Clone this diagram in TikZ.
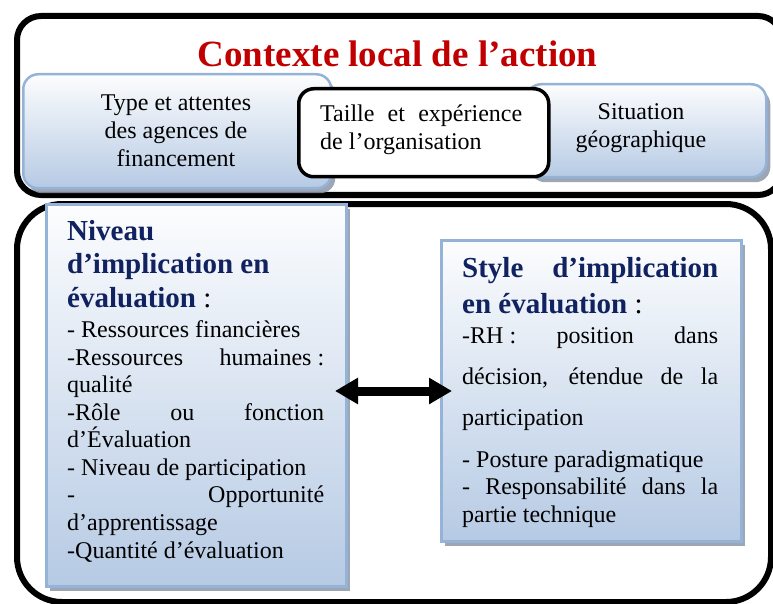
\documentclass[tikz,border=0pt]{standalone}
\usepackage{fontspec}
\setmainfont{Liberation Serif}
\usetikzlibrary{shadows,arrows.meta}

\definecolor{titlered}{RGB}{192,0,0}
\definecolor{navy}{RGB}{16,34,96}
\definecolor{paleblue}{RGB}{182,202,228}
\definecolor{edgeblue}{RGB}{149,179,215}
\definecolor{shadowgray}{RGB}{140,150,168}

% type sizes (1 unit = 1pt)
\newcommand\bodyfont{\fontsize{24}{28}\selectfont}
\newcommand\headfont{\fontsize{29}{34}\selectfont\bfseries\color{navy}}
\newcommand\colonfont{\fontsize{29}{34}\selectfont\color{black}}
\newcommand\titlefont{\fontsize{37}{44}\selectfont\bfseries\color{titlered}}
% justified line of a given width
\newcommand\jline[2]{\makebox[#1][s]{#2}}

\tikzset{
  frame/.style={draw=black, line width=6pt, inner sep=0pt, anchor=north west},
  bluebox/.style={draw=edgeblue, line width=2.5pt, top color=white!96!paleblue,
    bottom color=paleblue, inner sep=0pt, anchor=north west,
    drop shadow={shadow xshift=4pt, shadow yshift=-5pt, fill=shadowgray, opacity=.85}},
  whitebox/.style={draw=black, fill=white, line width=3.5pt, rounded corners=15pt,
    inner sep=0pt, anchor=north west},
  txt/.style={anchor=base west, inner sep=0pt, font=\bodyfont},
  ctxt/.style={anchor=base, inner sep=0pt, font=\bodyfont},
  bigarrow/.style={line width=9pt,
    {Triangle[length=23pt,width=25pt]}-{Triangle[length=23pt,width=25pt]}},
}

\begin{document}
\begin{tikzpicture}[x=1pt, y=-1pt]
  \useasboundingbox (0,0) rectangle (773,604);
  \clip (0,0) rectangle (773,604);

  % outer frames
  \node[frame, rounded corners=24pt, minimum width=765pt, minimum height=179pt] (ctx) at (14,13) {};
  \node[frame, rounded corners=45pt, minimum width=754pt, minimum height=398pt] (impl) at (14,201) {};

  % context boxes
  \node[bluebox, rounded corners=15pt, minimum width=308pt, minimum height=114pt] (fin) at (22,73) {};
  \node[bluebox, rounded corners=15pt, minimum width=240pt, minimum height=93pt] (geo) at (525,83) {};
  \node[whitebox, minimum width=250pt, minimum height=88pt] (org) at (297,87) {};

  % implication boxes
  \node[bluebox, minimum width=300pt, minimum height=382pt] (niv) at (45,203) {};
  \node[bluebox, minimum width=300pt, minimum height=301pt] (sty) at (440,239) {};

  % two-way link between the two boxes
  \coordinate (al) at (335,391);
  \coordinate (ar) at (452,391);
  \draw[bigarrow] (al) -- (ar);

  % title
  \node[anchor=base, inner sep=0pt, font=\titlefont] (title) at (397.5,67) {Contexte local de l’action};

  % context texts
  \node[ctxt] (f1) at (176,111) {Type et attentes};
  \node[ctxt] (f2) at (176,139) {des agences de};
  \node[ctxt] (f3) at (176,167) {financement};

  \node[txt] (o1) at (320,122) {\jline{202pt}{Taille et expérience}};
  \node[txt] (o2) at (320,150) {de l’organisation};

  \node[ctxt] (g1) at (641,120) {Situation};
  \node[ctxt] (g2) at (641,148) {géographique};

  % level of involvement
  \node[txt] (n1) at (67,240.7) {\headfont Niveau};
  \node[txt] (n2) at (67,273.5) {\headfont d’implication en};
  \node[txt] (n3) at (67,307.5) {{\headfont évaluation}{\colonfont\ :}};
  \node[txt] (n4) at (67,337) {- Ressources financières};
  \node[txt] (n5) at (67,365) {\jline{257pt}{-Ressources \hbox{humaines :}}};
  \node[txt] (n6) at (67,392) {qualité};
  \node[txt] (n7) at (67,420) {\jline{257pt}{-Rôle ou fonction}};
  \node[txt] (n8) at (67,447) {d’Évaluation};
  \node[txt] (n9) at (67,475) {- Niveau de participation};
  \node[txt] (n10) at (67,502) {\jline{257pt}{- Opportunité}};
  \node[txt] (n11) at (67,530) {d’apprentissage};
  \node[txt] (n12) at (67,558) {-Quantité d’évaluation};

  % style of involvement
  \node[txt] (s1) at (462,277) {\headfont\jline{256pt}{Style d’implication}};
  \node[txt] (s2) at (462,313) {{\headfont en évaluation}{\colonfont\ :}};
  \node[txt] (s3) at (462,343) {\jline{256pt}{\hbox{-RH :} position dans}};
  \node[txt] (s4) at (462,384) {\jline{256pt}{décision, étendue de la}};
  \node[txt] (s5) at (462,425) {participation};
  \node[txt] (s6) at (462,467) {- Posture paradigmatique};
  \node[txt] (s7) at (462,494) {\jline{256pt}{- Responsabilité dans la}};
  \node[txt] (s8) at (462,522) {partie technique};
\end{tikzpicture}
\end{document}
